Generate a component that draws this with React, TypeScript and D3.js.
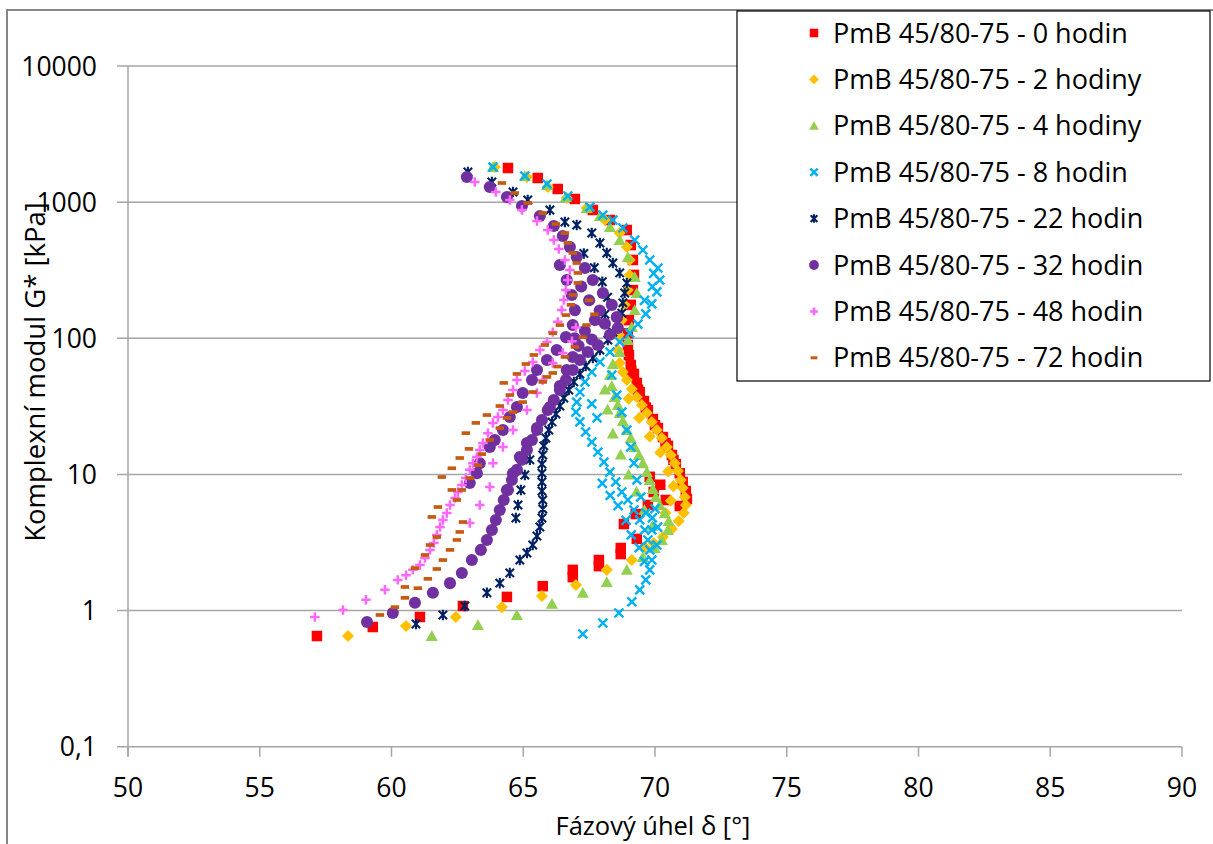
import React from "react";
import * as d3 from "d3";

type P = [number, number];

const seriesNames = [
  "PmB 45/80-75 - 0 hodin",
  "PmB 45/80-75 - 2 hodiny",
  "PmB 45/80-75 - 4 hodiny",
  "PmB 45/80-75 - 8 hodin",
  "PmB 45/80-75 - 22 hodin",
  "PmB 45/80-75 - 32 hodin",
  "PmB 45/80-75 - 48 hodin",
  "PmB 45/80-75 - 72 hodin",
];
const seriesColors = ["#ff0000", "#ffc000", "#92d050", "#00b0f0", "#002060", "#7030a0", "#ff66ff", "#c55a11"];
const seriesMarkers = ["square", "diamond", "triangle", "x", "star", "circle", "plus", "dash"];

const xTicks = [50, 55, 60, 65, 70, 75, 80, 85, 90];
const yTicks = [0.1, 1, 10, 100, 1000, 10000];
const yTickLabels = ["0,1", "1", "10", "100", "1000", "10000"];

// [phase angle δ (°), complex modulus G* (kPa)]
const hodin0: P[] = [
  [64.42, 1781], [65.55, 1504], [66.31, 1249], [66.96, 1055], [67.64, 876], [68.29, 739], [68.93, 624],
  [69.08, 484], [69.16, 376], [69.2, 292], [69.16, 226], [69.08, 176], [69.01, 136], [68.97, 109],
  [68.97, 89.3], [69.01, 75.4], [69.08, 63.7], [69.2, 54.7], [69.31, 47.0], [69.42, 40.3], [69.58, 34.6],
  [69.73, 29.7], [69.92, 25.5], [70.11, 21.9], [70.3, 18.8], [70.49, 16.2], [70.64, 13.9], [70.79, 11.9],
  [70.94, 10.2], [71.05, 8.8], [71.17, 7.55], [71.21, 6.6], [70.94, 5.86], [70.41, 6.49], [69.95, 7.43],
  [69.73, 5.96], [69.27, 5.12], [68.82, 4.32], [69.31, 3.36], [68.7, 2.88], [68.7, 2.6], [67.87, 2.35],
  [67.87, 2.12], [66.88, 1.99], [66.88, 1.76], [65.74, 1.51], [64.38, 1.26], [62.71, 1.08], [61.08, 0.897],
  [59.29, 0.757], [57.17, 0.65],
  [69.1, 58], [69.35, 42], [69.65, 31], [70.0, 23], [70.4, 17], [70.7, 12.8], [70.2, 8.4], [69.8, 9.6],
];
const hodiny2: P[] = [
  [63.92, 1812], [65.14, 1530], [65.93, 1292], [66.65, 1073], [67.41, 906], [68.1, 739], [68.66, 593],
  [68.93, 468], [69.04, 376], [69.04, 292], [68.97, 226], [68.85, 176], [68.74, 136], [68.63, 106],
  [68.59, 82.0], [68.66, 65.8], [68.78, 56.5], [68.93, 49.4], [69.12, 42.4], [69.31, 37.0], [69.5, 32.4],
  [69.69, 28.3], [69.88, 24.3], [70.07, 21.2], [70.26, 18.5], [70.45, 15.9], [70.6, 13.9], [70.75, 12.1],
  [70.87, 10.6], [70.98, 9.1], [71.05, 7.95], [71.13, 6.83], [71.17, 5.96], [71.09, 5.21], [70.9, 4.55],
  [70.64, 3.97], [70.3, 3.47], [69.95, 3.13], [69.61, 2.93], [69.12, 2.35], [68.17, 1.99], [67.0, 1.54],
  [65.71, 1.28], [64.19, 1.06], [62.44, 0.897], [60.55, 0.77], [58.35, 0.65],
  [69.0, 36], [69.4, 26], [69.8, 19], [70.2, 14.5], [70.5, 10.5], [70.7, 8.2], [70.6, 6.4], [70.4, 5.2],
];
const hodiny4: P[] = [
  [63.85, 1812], [65.06, 1556], [65.9, 1336], [66.62, 1091], [67.41, 906], [67.91, 791], [68.29, 657],
  [68.66, 527], [68.97, 395], [69.23, 282], [69.31, 215], [69.23, 161], [69.12, 121], [68.97, 97.1],
  [68.66, 79.3], [68.4, 64.7], [68.29, 53.7], [68.36, 44.6], [68.47, 37.0], [68.59, 32.4], [68.66, 28.3],
  [68.78, 24.7], [68.93, 21.2], [69.08, 18.5], [69.23, 15.9], [69.39, 13.9], [69.54, 12.1], [69.69, 10.4],
  [69.8, 9.1], [69.92, 7.82], [70.03, 6.83], [70.18, 5.96], [70.37, 5.21], [70.52, 4.55], [70.49, 3.91],
  [70.26, 3.3], [69.99, 2.88], [69.54, 2.47], [68.93, 1.99], [68.17, 1.62], [67.26, 1.35], [66.09, 1.12],
  [64.76, 0.928], [63.28, 0.783], [61.53, 0.65],
  [68.2, 30], [68.4, 20], [68.7, 14], [69.0, 10], [69.3, 7.5], [69.6, 5.5], [69.9, 4.2], [68.1, 42],
];
const hodin8: P[] = [
  [63.85, 1812], [65.06, 1556], [65.9, 1359], [66.69, 1110], [67.53, 921], [68.02, 804], [68.4, 739],
  [68.78, 646], [69.23, 527], [69.54, 445], [69.8, 376], [70.11, 328], [70.18, 268], [70.07, 219],
  [69.88, 179], [69.65, 151], [69.35, 127], [69.04, 109], [68.66, 93.9], [68.29, 79.3], [67.91, 67.0],
  [67.6, 56.5], [67.34, 47.8], [67.15, 40.3], [67.03, 34.0], [67.0, 28.7], [67.15, 24.3], [67.37, 20.5],
  [67.6, 17.3], [67.83, 14.6], [68.06, 12.3], [68.29, 10.4], [68.51, 8.8], [68.74, 7.43], [68.97, 6.49],
  [69.2, 5.48], [69.42, 4.63], [69.61, 3.91], [69.73, 3.3], [69.8, 2.79], [69.88, 2.35], [69.8, 1.99],
  [69.65, 1.68], [69.42, 1.42], [69.12, 1.16], [68.63, 0.96], [68.02, 0.81], [67.26, 0.673],
  [68.36, 53.7], [68.55, 38.3], [68.74, 28.7], [68.93, 21.2], [69.08, 15.9], [69.2, 12.1], [69.31, 9.1],
  [69.46, 6.83], [69.65, 5.21], [69.88, 3.91], [70.07, 3.03],
  [68.6, 5.9], [68.9, 4.6], [69.1, 3.6], [69.4, 2.9], [69.6, 2.3], [68.3, 7.0], [68.0, 8.6], [69.9, 4.8],
  [70.1, 4.1], [70.0, 5.6], [69.9, 240], [69.6, 190], [69.95, 300], [67.6, 33], [67.8, 26],
];
const hodin22: P[] = [
  [62.9, 1665], [63.81, 1406], [64.61, 1187], [65.17, 1037], [66.01, 876], [66.58, 715], [67.03, 680],
  [67.6, 593], [67.91, 501], [68.17, 423], [68.4, 357], [68.66, 302], [68.93, 255], [68.85, 215],
  [68.78, 182], [68.74, 153], [68.59, 129], [68.4, 111], [68.21, 97.1], [67.91, 82.0], [67.64, 71.6],
  [67.37, 62.6], [67.15, 54.7], [66.92, 47.8], [66.73, 41.7], [66.54, 36.4], [66.39, 31.8], [66.24, 27.8],
  [66.09, 24.3], [65.97, 21.2], [65.86, 18.5], [65.78, 16.2], [65.74, 13.9], [65.71, 11.9], [65.71, 10.2],
  [65.71, 8.8], [65.71, 7.55], [65.74, 6.49], [65.74, 5.57], [65.71, 4.79], [65.63, 4.11], [65.52, 3.53],
  [65.36, 3.03], [65.14, 2.65], [64.87, 2.35], [64.49, 1.89], [64.11, 1.59], [63.62, 1.35], [62.78, 1.08],
  [61.95, 0.928], [60.93, 0.797],
  [65.25, 12.8], [65.06, 9.9], [64.91, 7.69], [64.8, 5.96], [64.72, 4.79],
  [67.3, 420], [67.7, 330], [68.0, 260], [68.2, 200], [68.1, 150],
];
const hodin32: P[] = [
  [62.86, 1530], [63.73, 1292], [64.38, 1091], [64.95, 937], [65.63, 791], [66.16, 668], [66.5, 564],
  [66.77, 468], [67.03, 395], [67.34, 328], [67.64, 268], [68.02, 215], [68.36, 176], [68.55, 143],
  [68.59, 119], [68.29, 106], [67.83, 89.3], [67.45, 79.3], [67.15, 69.3], [66.88, 58.5], [66.62, 49.4],
  [66.39, 41.7], [66.16, 35.2], [65.93, 29.7], [65.71, 25.1], [65.52, 21.2], [65.33, 17.9], [65.14, 15.1],
  [64.95, 12.8], [64.76, 10.8], [64.57, 9.1], [64.42, 7.69], [64.26, 6.49], [64.11, 5.48], [63.96, 4.63],
  [63.81, 3.91], [63.62, 3.3], [63.39, 2.79], [63.05, 2.35], [62.67, 1.89], [62.22, 1.59], [61.57, 1.35],
  [60.89, 1.14], [60.05, 0.96], [59.07, 0.824],
  [66.62, 102], [66.27, 82.0], [65.9, 69.3], [65.52, 58.5], [65.33, 49.4], [64.98, 39.6], [64.76, 31.3],
  [64.49, 26.4], [64.23, 21.2], [63.92, 17.9], [63.73, 15.9], [63.35, 12.1], [63.24, 10.2], [62.97, 8.65],
  [66.39, 345], [66.65, 268], [66.84, 208], [66.96, 161], [66.88, 125], [67.72, 136], [67.34, 113],
  [66.88, 72.9], [66.65, 58.5], [66.39, 44.6], [66.01, 31.3], [65.52, 21.9], [65.14, 17.0], [64.87, 13.4],
  [64.61, 10.2], [64.38, 7.69],
  [67.2, 240], [67.5, 190], [67.9, 160], [68.1, 128], [67.6, 98], [67.1, 88], [66.95, 100],
];
const hodin48: P[] = [
  [63.16, 1406], [63.96, 1187], [64.49, 1037], [64.95, 876], [65.52, 727], [65.93, 624], [66.16, 527],
  [66.35, 453], [66.58, 376], [66.77, 317], [66.69, 268], [66.62, 226], [66.54, 191], [66.46, 161],
  [66.31, 132], [66.12, 111], [65.9, 93.9], [65.63, 82.0], [65.36, 67.0], [65.06, 57.5], [64.76, 49.4],
  [64.61, 41.7], [64.42, 35.2], [64.23, 29.7], [64.04, 26.4], [63.85, 23.9], [63.66, 20.1], [63.47, 17.0],
  [63.35, 15.1], [63.24, 13.4], [63.09, 12.1], [62.97, 10.8], [62.82, 9.41], [62.67, 8.36], [62.52, 7.43],
  [62.41, 6.71], [62.22, 5.96], [62.1, 5.21], [61.95, 4.63], [61.84, 4.11], [61.72, 3.59], [61.61, 3.13],
  [61.46, 2.79], [61.27, 2.43], [61.08, 2.16], [60.81, 1.99], [60.55, 1.82], [60.24, 1.68], [59.75, 1.42],
  [59.03, 1.2], [58.16, 1.01], [57.09, 0.897],
  [66.12, 65.8], [65.74, 49.4], [65.52, 39.6], [65.14, 29.7], [64.61, 21.2], [64.23, 15.9], [63.85, 12.1],
  [63.73, 8.08], [63.35, 5.96], [62.97, 4.4],
  [67.0, 120], [66.85, 95], [66.5, 78],
];
const hodin72: P[] = [
  [64.19, 1382], [64.68, 1167], [65.17, 986], [65.74, 832], [66.24, 691], [66.58, 593], [66.69, 501],
  [66.88, 423], [67.03, 357], [67.07, 302], [67.07, 255], [66.88, 208], [66.81, 176], [66.62, 148],
  [66.39, 125], [66.12, 109], [65.82, 89.3], [65.4, 75.4], [65.1, 64.7], [64.76, 54.7], [64.26, 47.0],
  [64.49, 38.3], [64.11, 31.8], [63.62, 27.3], [63.2, 23.9], [62.82, 20.1], [62.94, 15.4], [62.59, 13.2],
  [62.29, 11.1], [61.91, 9.57], [62.29, 7.69], [61.76, 5.76], [61.53, 4.87], [61.72, 3.47], [61.46, 3.03],
  [61.27, 2.56], [60.89, 2.05], [60.51, 1.49], [60.51, 1.24], [60.13, 1.06], [59.56, 0.928],
  [67.26, 102], [66.96, 86.3], [66.58, 72.9], [66.12, 55.6], [65.74, 47.8], [65.36, 40.3], [64.98, 34.0],
  [64.61, 28.7], [64.38, 26.0], [64.11, 21.9], [63.73, 17.9], [63.43, 14.1], [63.28, 11.7], [62.97, 9.41],
  [62.67, 7.69], [62.48, 6.49], [62.71, 4.47], [62.59, 3.78], [62.48, 3.3], [62.22, 2.79], [61.95, 2.35],
  [61.72, 2.02], [61.38, 1.71], [61.0, 1.46],
  [67.5, 190], [67.7, 150], [67.4, 125], [66.3, 62], [65.9, 52],
];

const allSeries = [hodin0, hodiny2, hodiny4, hodin8, hodin22, hodin32, hodin48, hodin72];

const W = 1213;
const H = 844;
const plot = { left: 128, right: 1182, top: 66, bottom: 746.7 };
const FONT = "'Open Sans', 'DejaVu Sans', sans-serif";
const GRID = "#a6a6a6";

function Marker({ type, x, y, s, color }: { type: string; x: number; y: number; s: number; color: string }) {
  const h = s / 2;
  switch (type) {
    case "square":
      return <rect x={x - h} y={y - h} width={s} height={s} fill={color} />;
    case "diamond":
      return <path d={`M${x},${y - h * 1.15}L${x + h * 1.15},${y}L${x},${y + h * 1.15}L${x - h * 1.15},${y}Z`} fill={color} />;
    case "triangle":
      return <path d={`M${x},${y - h * 1.1}L${x + h * 1.15},${y + h * 0.95}L${x - h * 1.15},${y + h * 0.95}Z`} fill={color} />;
    case "x":
      return (
        <path d={`M${x - h * 0.85},${y - h * 0.85}L${x + h * 0.85},${y + h * 0.85}M${x - h * 0.85},${y + h * 0.85}L${x + h * 0.85},${y - h * 0.85}`}
          stroke={color} strokeWidth={2.4} fill="none" />
      );
    case "star":
      return (
        <path d={`M${x - h * 0.8},${y - h * 0.8}L${x + h * 0.8},${y + h * 0.8}M${x - h * 0.8},${y + h * 0.8}L${x + h * 0.8},${y - h * 0.8}M${x},${y - h}L${x},${y + h}`}
          stroke={color} strokeWidth={2.1} fill="none" />
      );
    case "circle":
      return <circle cx={x} cy={y} r={h * 1.15} fill={color} />;
    case "plus":
      return (
        <path d={`M${x - h * 0.9},${y}L${x + h * 0.9},${y}M${x},${y - h * 0.9}L${x},${y + h * 0.9}`}
          stroke={color} strokeWidth={2.5} fill="none" />
      );
    case "dash":
      return <rect x={x - h * 0.8} y={y - h * 0.35} width={s * 0.8} height={s * 0.35} fill={color} />;
    default:
      return null;
  }
}

export default function App() {
  const x = d3.scaleLinear().domain([50, 90]).range([plot.left, plot.right]);
  const y = d3.scaleLog().domain([0.1, 10000]).range([plot.bottom, plot.top]);

  const legendRowY = (i: number) => 33 + i * 46.4;

  return (
    <div style={{ position: "absolute", left: 0, top: 0, width: W, height: H, background: "#fff" }}>
      <svg width={W} height={H} style={{ display: "block" }}>
        <rect x={0} y={0} width={W} height={H} fill="#fff" />
        <rect x={7} y={10} width={W + 20} height={H + 20} fill="none" stroke="#868686" strokeWidth={2} />

        {yTicks.map((t) => (
          <line key={"g" + t} x1={plot.left - 11} x2={plot.right} y1={y(t)} y2={y(t)} stroke={GRID} strokeWidth={1.5} />
        ))}
        <line x1={plot.left} x2={plot.left} y1={plot.top} y2={plot.bottom + 10} stroke={GRID} strokeWidth={1.5} />
        {xTicks.map((t) => (
          <line key={"xt" + t} x1={x(t)} x2={x(t)} y1={plot.bottom} y2={plot.bottom + 10} stroke={GRID} strokeWidth={1.5} />
        ))}

        {yTicks.map((t, i) => (
          <text key={"yl" + t} x={97} y={y(t) + 9.5} textAnchor="end" fontFamily={FONT} fontSize={26.5} fill="#000">
            {yTickLabels[i]}
          </text>
        ))}
        {xTicks.map((t) => (
          <text key={"xl" + t} x={x(t)} y={797} textAnchor="middle" fontFamily={FONT} fontSize={26.5} fill="#000">
            {String(t)}
          </text>
        ))}

        <text x={653} y={835} textAnchor="middle" fontFamily={FONT} fontSize={25.5} fill="#000">
          Fázový úhel δ [°]
        </text>
        <text transform={`translate(45,372) rotate(-90)`} textAnchor="middle" fontFamily={FONT} fontSize={27.5} fill="#000">
          Komplexní modul G* [kPa]
        </text>

        {allSeries.map((data, si) => (
          <g key={"s" + si}>
            {data.map((d, i) => (
              <Marker key={i} type={seriesMarkers[si]} x={x(d[0])} y={y(d[1])} s={10.5} color={seriesColors[si]} />
            ))}
          </g>
        ))}

        <rect x={737} y={11} width={473} height={370} fill="#fff" stroke="#000" strokeWidth={1.2} />
        {seriesNames.map((name, i) => (
          <g key={"l" + i}>
            <Marker type={seriesMarkers[i]} x={814} y={legendRowY(i)} s={8.5} color={seriesColors[i]} />
            <text x={833} y={legendRowY(i) + 9.5} fontFamily={FONT} fontSize={27} fill="#000">
              {name}
            </text>
          </g>
        ))}
      </svg>
    </div>
  );
}
